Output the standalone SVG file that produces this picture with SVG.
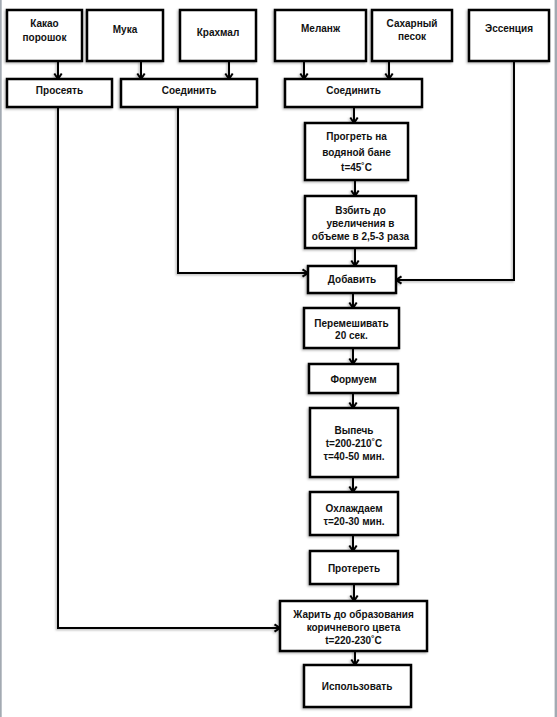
<svg xmlns="http://www.w3.org/2000/svg" width="557" height="717" viewBox="0 0 557 717">
<defs>
<filter id="sh" filterUnits="userSpaceOnUse" x="0" y="0" width="557" height="717">
<feDropShadow dx="-1.2" dy="1.2" stdDeviation="0.9" flood-color="#000" flood-opacity="0.3"/>
</filter>
<marker id="ah" viewBox="0 0 10 10" refX="7" refY="5" markerWidth="10" markerHeight="10" markerUnits="userSpaceOnUse" orient="auto">
<path d="M1.5,1.3 L7,5 L1.5,8.7" fill="none" stroke="#000" stroke-width="2"/>
</marker>
</defs>
<style>
.b{fill:#fff;stroke:#000;stroke-width:2.5;filter:url(#sh)}
.t{font-family:"Liberation Sans",Arial,sans-serif;font-weight:bold;font-size:10px;fill:#111;text-anchor:middle}
.c{fill:none;stroke:#000;stroke-width:2;marker-end:url(#ah)}
</style>
<rect x="0" y="0" width="557" height="717" fill="#fff"/>
<rect x="0" y="0" width="1.7" height="717" fill="#a3aab2"/>
<rect x="554.6" y="0" width="2.4" height="717" fill="#a3aab2"/>

<g id="connectors" filter="url(#sh)">
<path class="c" d="M58,61 V79"/>
<path class="c" d="M141,61 V79"/>
<path class="c" d="M229,61 V79"/>
<path class="c" d="M304,61 V79"/>
<path class="c" d="M389,61 V79"/>
<path class="c" d="M354,107 V123"/>
<path class="c" d="M355,180 V196"/>
<path class="c" d="M355,248 V266"/>
<path class="c" d="M178,107 V273 H308"/>
<path class="c" d="M514,61 V280 H396"/>
<path class="c" d="M353,293 V308"/>
<path class="c" d="M353,348 V364"/>
<path class="c" d="M353,393 V408"/>
<path class="c" d="M353,477 V492"/>
<path class="c" d="M353,535 V551"/>
<path class="c" d="M354,584 V601"/>
<path class="c" d="M58,107 V628 H280"/>
<path class="c" d="M355,651 V665"/>
</g>

<g id="cocoa"><rect class="b" x="7" y="10" width="75" height="51"/><text class="t" x="44.5" y="27">Какао</text><text class="t" x="44.5" y="41">порошок</text></g>
<g id="flour"><rect class="b" x="87" y="10" width="76" height="51"/><text class="t" x="125" y="33">Мука</text></g>
<g id="starch"><rect class="b" x="180" y="10" width="76" height="51"/><text class="t" x="218" y="36">Крахмал</text></g>
<g id="melange"><rect class="b" x="275" y="10" width="91" height="51"/><text class="t" x="320.5" y="32">Меланж</text></g>
<g id="sugar"><rect class="b" x="372" y="10" width="80" height="51"/><text class="t" x="412" y="27">Сахарный</text><text class="t" x="412" y="40">песок</text></g>
<g id="essence"><rect class="b" x="469" y="10" width="80" height="51"/><text class="t" x="509" y="32">Эссенция</text></g>
<g id="sift"><rect class="b" x="7" y="79" width="105" height="28"/><text class="t" x="59.5" y="94">Просеять</text></g>
<g id="combine1"><rect class="b" x="121" y="79" width="136" height="28"/><text class="t" x="189" y="94">Соединить</text></g>
<g id="combine2"><rect class="b" x="285" y="79" width="137" height="28"/><text class="t" x="353.5" y="94">Соединить</text></g>
<g id="warm"><rect class="b" x="305" y="123" width="103" height="57"/><text class="t" x="356.5" y="140">Прогреть на</text><text class="t" x="356.5" y="156">водяной бане</text><text class="t" x="356.5" y="171">t=45˚C</text></g>
<g id="whip"><rect class="b" x="305" y="196" width="111" height="52"/><text class="t" x="360.5" y="214">Взбить до</text><text class="t" x="360.5" y="227">увеличения в</text><text class="t" x="360.5" y="240">объеме в 2,5-3 раза</text></g>
<g id="add"><rect class="b" x="308" y="266" width="88" height="27"/><text class="t" x="352" y="283">Добавить</text></g>
<g id="mix"><rect class="b" x="304" y="308" width="95" height="40"/><text class="t" x="351.5" y="327">Перемешивать</text><text class="t" x="351.5" y="339">20 сек.</text></g>
<g id="form"><rect class="b" x="309" y="364" width="89" height="29"/><text class="t" x="353.5" y="383">Формуем</text></g>
<g id="bake"><rect class="b" x="310" y="408" width="88" height="69"/><text class="t" x="354" y="434">Выпечь</text><text class="t" x="354" y="447">t=200-210˚C</text><text class="t" x="354" y="460">τ=40-50 мин.</text></g>
<g id="cool"><rect class="b" x="310" y="492" width="88" height="43"/><text class="t" x="354" y="512">Охлаждаем</text><text class="t" x="354" y="525">τ=20-30 мин.</text></g>
<g id="wipe"><rect class="b" x="310" y="551" width="88" height="33"/><text class="t" x="354" y="572">Протереть</text></g>
<g id="fry"><rect class="b" x="280" y="601" width="147" height="50"/><text class="t" x="353.5" y="618">Жарить до образования</text><text class="t" x="353.5" y="631">коричневого цвета</text><text class="t" x="353.5" y="644">t=220-230˚C</text></g>
<g id="use"><rect class="b" x="304" y="665" width="107" height="42"/><text class="t" x="357" y="690">Использовать</text></g>
</svg>
